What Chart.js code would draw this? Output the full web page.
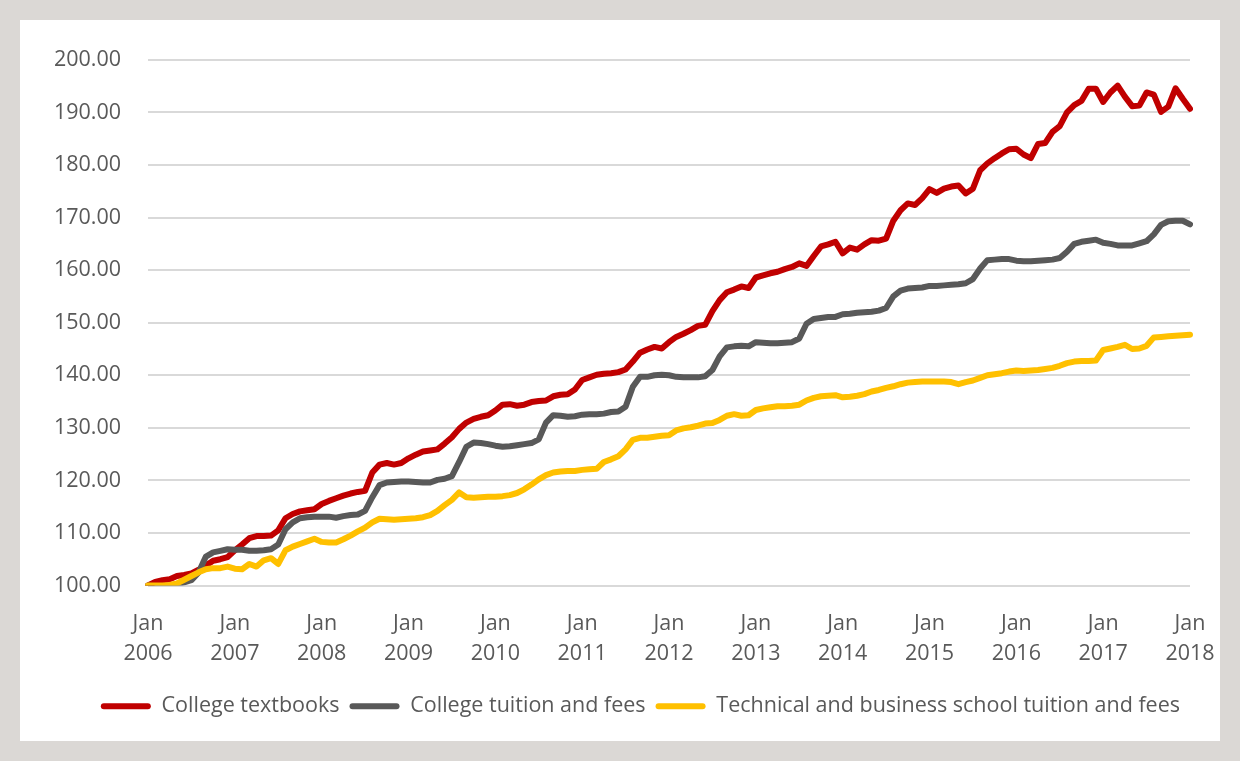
<!DOCTYPE html>
<html>
<head>
<meta charset="utf-8">
<script src="https://cdn.jsdelivr.net/npm/chart.js@4.4.1/dist/chart.umd.min.js"></script>
<style>
  html, body { margin: 0; padding: 0; background: #fff; }
  .frame { width: 1240px; height: 761px; box-sizing: border-box; border: 20px solid #dbd8d5; background: #fff; }
  .inner { position: relative; width: 1200px; height: 721px; }
</style>
</head>
<body>
<div class="frame"><div class="inner"><canvas id="priceChart"></canvas></div></div>
<script>
const years = ['2006', '2007', '2008', '2009', '2010', '2011', '2012', '2013', '2014', '2015', '2016', '2017', '2018'];
const months = ['Jan', 'Feb', 'Mar', 'Apr', 'May', 'Jun', 'Jul', 'Aug', 'Sep', 'Oct', 'Nov', 'Dec'];

// monthly index values, Jan 2006 = 100, one row per year
const textbooks = [
  100, 100.7, 101, 101.2, 101.8, 102, 102.3, 103, 103.8, 104.7, 105, 105.4,
  106.7, 107.8, 109, 109.4, 109.4, 109.5, 110.5, 112.8, 113.6, 114.1, 114.3, 114.5,
  115.5, 116.1, 116.6, 117.1, 117.5, 117.8, 118, 121.5, 123, 123.3, 123, 123.3,
  124.2, 124.9, 125.5, 125.7, 125.9, 127, 128.2, 129.8, 131, 131.7, 132.1, 132.4,
  133.3, 134.4, 134.5, 134.2, 134.4, 134.9, 135.1, 135.2, 136, 136.3, 136.4, 137.3,
  139.1, 139.6, 140.1, 140.3, 140.4, 140.6, 141.1, 142.6, 144.3, 144.9, 145.4, 145.1,
  146.3, 147.3, 147.9, 148.6, 149.4, 149.6, 152.2, 154.3, 155.8, 156.3, 156.9, 156.6,
  158.6, 159, 159.4, 159.7, 160.2, 160.6, 161.3, 160.8, 162.7, 164.5, 164.9, 165.4,
  163.2, 164.3, 163.9, 164.9, 165.7, 165.6, 166, 169.4, 171.4, 172.7, 172.4, 173.7,
  175.4, 174.7, 175.5, 175.9, 176.1, 174.6, 175.5, 179, 180.3, 181.3, 182.2, 183,
  183.1, 182, 181.3, 184, 184.2, 186.3, 187.4, 190, 191.4, 192.2, 194.5, 194.5,
  192, 193.8, 195.1, 193, 191.2, 191.3, 193.8, 193.4, 190.1, 191.1, 194.6, 192.6,
  190.7
];
const tuition = [
  100, 99.8, 99.7, 99.7, 100.2, 100.6, 101, 102.5, 105.5, 106.3, 106.6, 106.9,
  106.8, 106.8, 106.6, 106.6, 106.7, 106.9, 107.8, 110.7, 112, 112.8, 113, 113.1,
  113.1, 113.1, 112.9, 113.2, 113.4, 113.5, 114.2, 116.8, 119.1, 119.6, 119.7, 119.8,
  119.8, 119.7, 119.6, 119.6, 120.1, 120.3, 120.8, 123.5, 126.4, 127.2, 127.1, 126.9,
  126.6, 126.4, 126.5, 126.7, 126.9, 127.1, 127.8, 131, 132.4, 132.3, 132.1, 132.2,
  132.5, 132.6, 132.6, 132.7, 133, 133.1, 134, 137.8, 139.7, 139.7, 140, 140.1,
  140, 139.7, 139.6, 139.6, 139.6, 139.8, 141, 143.6, 145.3, 145.5, 145.6, 145.5,
  146.3, 146.2, 146.1, 146.1, 146.2, 146.3, 147, 149.8, 150.7, 150.9, 151.1, 151.1,
  151.6, 151.7, 151.9, 152, 152.1, 152.3, 152.8, 155, 156.1, 156.5, 156.6, 156.7,
  157, 157, 157.1, 157.2, 157.3, 157.5, 158.3, 160.3, 161.9, 162, 162.1, 162.1,
  161.8, 161.7, 161.7, 161.8, 161.9, 162, 162.3, 163.5, 165, 165.4, 165.6, 165.8,
  165.2, 165, 164.7, 164.7, 164.7, 165.1, 165.5, 166.8, 168.6, 169.3, 169.4, 169.4,
  168.7
];
const technical = [
  100, 100, 100, 100.1, 100.4, 101.1, 101.8, 102.5, 103.1, 103.3, 103.3, 103.6,
  103.2, 103.1, 104.1, 103.6, 104.8, 105.2, 104.1, 106.7, 107.4, 107.9, 108.4, 108.9,
  108.3, 108.2, 108.2, 108.8, 109.5, 110.3, 111, 112, 112.7, 112.6, 112.5, 112.6,
  112.7, 112.8, 113, 113.4, 114.2, 115.3, 116.3, 117.7, 116.8, 116.7, 116.8, 116.9,
  116.9, 117, 117.2, 117.6, 118.3, 119.2, 120.2, 121, 121.5, 121.7, 121.8, 121.8,
  122, 122.1, 122.2, 123.5, 124, 124.6, 125.9, 127.7, 128.1, 128.1, 128.3, 128.5,
  128.6, 129.5, 129.9, 130.1, 130.4, 130.8, 130.9, 131.5, 132.3, 132.6, 132.3, 132.4,
  133.4, 133.7, 133.9, 134.1, 134.1, 134.2, 134.4, 135.2, 135.7, 136, 136.1, 136.2,
  135.8, 135.9, 136.1, 136.4, 136.9, 137.2, 137.6, 137.9, 138.3, 138.6, 138.7, 138.8,
  138.8, 138.8, 138.8, 138.7, 138.3, 138.7, 139, 139.5, 140, 140.2, 140.4, 140.7,
  140.9, 140.8, 140.9, 141, 141.2, 141.4, 141.8, 142.3, 142.6, 142.7, 142.7, 142.8,
  144.8, 145.1, 145.4, 145.8, 145, 145.1, 145.6, 147.2, 147.3, 147.4, 147.5, 147.6,
  147.7
];

const labels = [];
years.forEach(y => months.forEach(m => labels.push(m + ' ' + y)));
labels.length = textbooks.length;

Chart.defaults.font.family = "'Open Sans', sans-serif";
Chart.defaults.font.size = 21.5;
Chart.defaults.color = '#595959';

function series(label, data, color, order) {
  return {
    label: label,
    data: data,
    borderColor: color,
    backgroundColor: color,
    borderWidth: 6,
    pointRadius: 0,
    tension: 0,
    borderJoinStyle: 'round',
    borderCapStyle: 'round',
    order: order
  };
}

const ctx = document.getElementById('priceChart').getContext('2d');
new Chart(ctx, {
  type: 'line',
  data: {
    labels: labels,
    datasets: [
      series('College textbooks', textbooks, '#c00000', 3),
      series('College tuition and fees', tuition, '#595959', 2),
      series('Technical and business school tuition and fees', technical, '#ffc000', 1)
    ]
  },
  options: {
    responsive: true,
    maintainAspectRatio: false,
    animation: false,
    layout: { padding: { top: 35, right: 30, bottom: 14, left: 0 } },
    plugins: {
      tooltip: { enabled: false },
      legend: {
        position: 'bottom',
        align: 'end',
        labels: {
          boxWidth: 50,
          boxHeight: 6,
          padding: 10,
          useBorderRadius: true,
          borderRadius: 3,
          sort: (a, b) => a.datasetIndex - b.datasetIndex,
          generateLabels: function (chart) {
            const items = Chart.defaults.plugins.legend.labels.generateLabels(chart);
            items.forEach(it => { it.lineWidth = 0; });
            return items;
          }
        }
      }
    },
    scales: {
      x: {
        type: 'category',
        offset: false,
        grid: { display: false, drawTicks: false },
        border: { display: false },
        afterFit: scale => {
          scale.height = 100;
          scale.paddingLeft = 0;
          scale.paddingRight = 0;
        },
        ticks: {
          autoSkip: false,
          maxRotation: 0,
          padding: 24,
          font: { lineHeight: 1.38 },
          callback: function (value) {
            const parts = this.getLabelForValue(value).split(' ');
            return parts[0] === 'Jan' ? parts : null;
          }
        }
      },
      y: {
        min: 100,
        max: 200,
        grid: { color: '#d9d9d9', lineWidth: 2, drawTicks: false },
        border: { display: false },
        afterFit: scale => { scale.width = 128; },
        ticks: {
          stepSize: 10,
          padding: 27,
          callback: value => value.toFixed(2)
        }
      }
    }
  }
});
</script>
</body>
</html>
